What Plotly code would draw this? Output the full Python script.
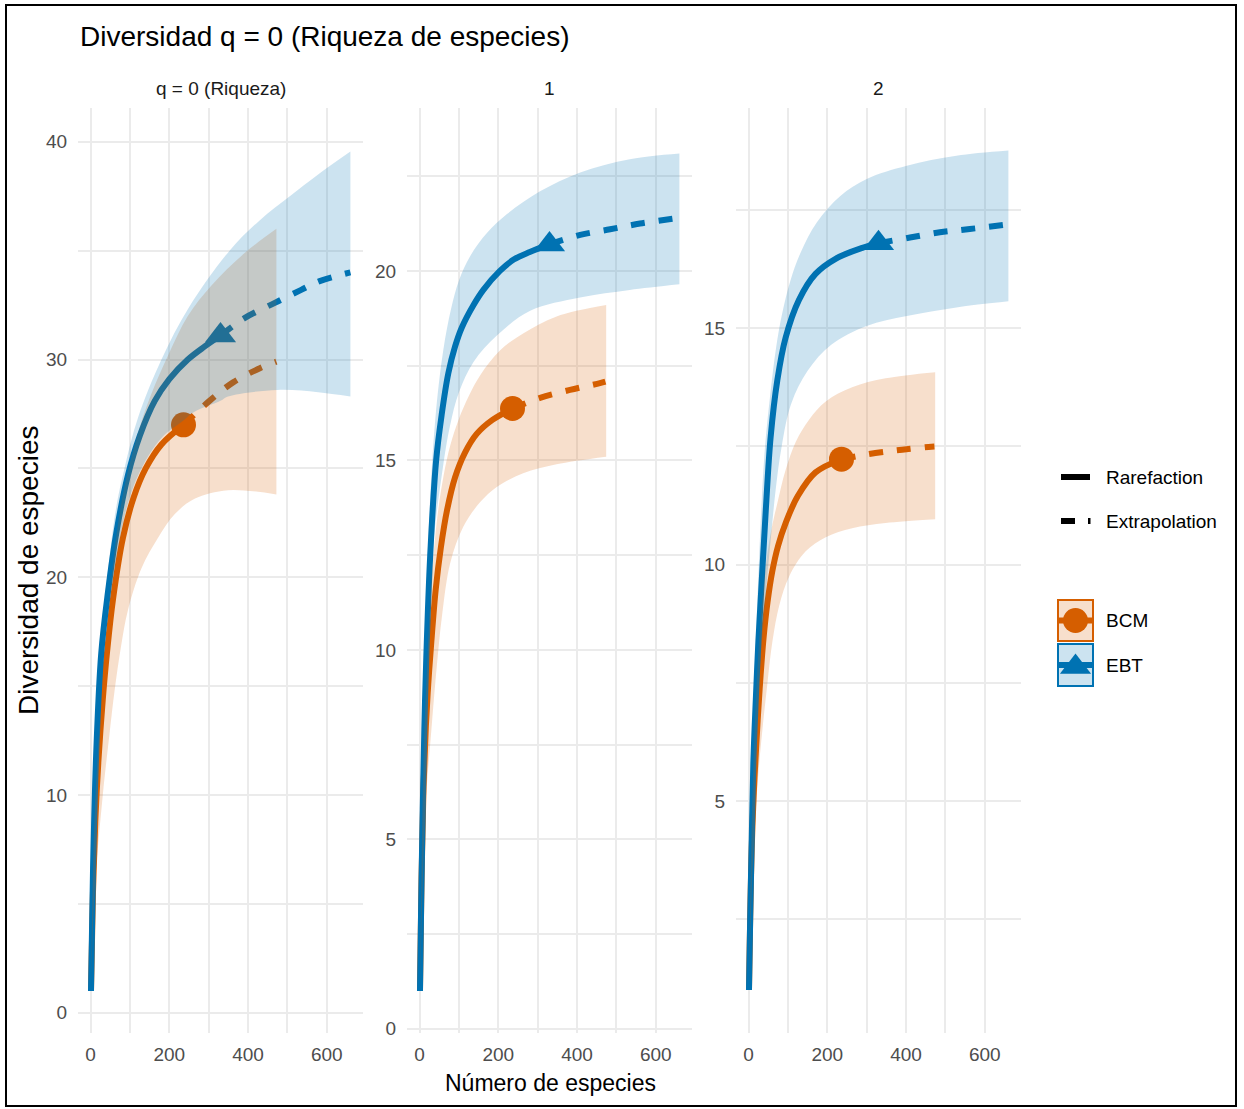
import plotly.graph_objects as go

W, H = 1244, 1109          # reference canvas (pixel design space)
H_FIG = 1115               # figure height (compensates the slight vertical squeeze of the capture)

# ---------------- data ----------------
facet_labels = ["q = 0 (Riqueza)", "1", "2"]
x_ticks = [0, 200, 400, 600]
y_dticks = [10, 5, 5]
y_ranges = [[-0.93, 41.55], [-0.11, 24.3], [0.09, 19.66]]

# q = 0
bcm_q0_rare_x = [1, 6, 12, 20, 31, 42, 57, 82, 110, 140, 180, 236]
bcm_q0_rare_y = [1, 5.5, 8.8, 11.6, 14.4, 16.6, 19.0, 21.8, 23.7, 25.0, 26.1, 27.0]
bcm_q0_ext_x = [236, 302, 362, 430, 472]
bcm_q0_ext_y = [27.0, 28.1, 28.95, 29.6, 29.9]
bcm_q0_hi_x = [1, 10, 31, 57, 82, 120, 154, 197, 247, 307, 392, 472]
bcm_q0_hi_y = [1, 9.0, 15.2, 20.6, 23.8, 26.6, 28.4, 30.2, 32.0, 33.4, 34.9, 36.0]
bcm_q0_lo_x = [1, 10, 31, 48, 61, 78, 95, 129, 171, 214, 264, 349, 472]
bcm_q0_lo_y = [1, 5.5, 10.0, 12.8, 14.8, 16.9, 18.5, 20.4, 21.8, 22.9, 23.6, 24.0, 23.8]

ebt_q0_rare_x = [1, 6, 14, 27, 44, 65, 95, 125, 163, 200, 247, 290, 330]
ebt_q0_rare_y = [1, 6.4, 11.8, 16.5, 19.3, 22.0, 24.7, 26.5, 28.1, 29.1, 30.0, 30.6, 31.1]
ebt_q0_ext_x = [330, 391, 468, 535, 582, 660]
ebt_q0_ext_y = [31.1, 31.9, 32.6, 33.2, 33.6, 34.0]
ebt_q0_hi_x = [1, 6, 14, 27, 44, 65, 86, 120, 180, 250, 353, 430, 506, 578, 660]
ebt_q0_hi_y = [1, 6.8, 12.4, 17.2, 20.3, 23.2, 25.0, 27.3, 30.0, 32.4, 35.0, 36.4, 37.5, 38.5, 39.55]
ebt_q0_lo_x = [1, 6, 14, 27, 44, 65, 95, 129, 180, 236, 264, 330, 349, 474, 578, 660]
ebt_q0_lo_y = [1, 6.0, 11.2, 15.6, 18.2, 20.8, 23.4, 25.0, 26.4, 27.2, 27.6, 28.1, 28.3, 28.6, 28.5, 28.3]

# q = 1
bcm_q1_rare_x = [1, 5, 10, 16, 22, 29, 41, 54, 70, 90, 115, 145, 185, 236]
bcm_q1_rare_y = [1, 4.0, 6.4, 8.0, 9.1, 10.1, 11.6, 12.7, 13.7, 14.55, 15.2, 15.7, 16.07, 16.37]
bcm_q1_ext_x = [236, 306, 382, 458, 472]
bcm_q1_ext_y = [16.37, 16.65, 16.86, 17.04, 17.08]
bcm_q1_hi_x = [1, 10, 20, 30, 45, 61, 78, 100, 125, 154, 204, 263, 348, 474]
bcm_q1_hi_y = [1, 7.2, 9.8, 11.8, 13.5, 14.6, 15.4, 16.1, 16.7, 17.25, 17.9, 18.35, 18.8, 19.1]
bcm_q1_lo_x = [1, 15, 30, 44, 57, 78, 111, 154, 196, 263, 348, 474]
bcm_q1_lo_y = [1, 5.8, 7.9, 9.6, 10.9, 12.3, 13.25, 13.9, 14.3, 14.66, 14.9, 15.1]

ebt_q1_rare_x = [1, 4, 8, 12, 17, 27, 42, 56, 73, 90, 107, 137, 162, 204, 239, 280, 330]
ebt_q1_rare_y = [1, 3.3, 5.8, 7.9, 9.8, 12.5, 15.0, 16.2, 17.3, 18.0, 18.5, 19.1, 19.5, 20.0, 20.3, 20.5, 20.7]
ebt_q1_ext_x = [330, 408, 484, 560, 660]
ebt_q1_ext_y = [20.7, 20.95, 21.1, 21.25, 21.4]
ebt_q1_hi_x = [1, 8, 15, 25, 40, 60, 80, 100, 129, 171, 222, 306, 408, 534, 660]
ebt_q1_hi_y = [1, 6.5, 10.5, 13.6, 16.1, 17.9, 19.0, 19.75, 20.4, 21.0, 21.5, 22.1, 22.6, 22.95, 23.1]
ebt_q1_lo_x = [1, 10, 20, 35, 59, 77, 100, 137, 197, 281, 408, 534, 660]
ebt_q1_lo_y = [1, 6.3, 10.0, 12.8, 14.8, 15.9, 16.8, 17.6, 18.3, 18.95, 19.3, 19.5, 19.65]

# q = 2
bcm_q2_rare_x = [1, 8, 15, 23, 30, 38, 48, 60, 75, 95, 125, 170, 236]
bcm_q2_rare_y = [1, 4.0, 5.5, 6.7, 7.6, 8.45, 9.2, 9.85, 10.4, 10.9, 11.45, 11.95, 12.23]
bcm_q2_ext_x = [236, 322, 390, 457, 472]
bcm_q2_ext_y = [12.23, 12.36, 12.43, 12.49, 12.5]
bcm_q2_hi_x = [1, 8, 20, 32, 44, 57, 73, 94, 120, 154, 196, 263, 348, 474]
bcm_q2_hi_y = [1, 4.6, 7.4, 9.0, 10.0, 10.7, 11.3, 12.0, 12.6, 13.07, 13.45, 13.75, 13.94, 14.07]
bcm_q2_lo_x = [1, 10, 25, 48, 61, 78, 103, 145, 196, 263, 348, 474]
bcm_q2_lo_y = [1, 3.5, 5.6, 7.5, 8.4, 9.14, 9.75, 10.28, 10.58, 10.77, 10.88, 10.96]

ebt_q2_rare_x = [1, 4, 8, 12, 18.6, 25, 34, 44, 56, 73, 94, 128, 170, 221, 289, 330]
ebt_q2_rare_y = [1, 2.5, 4.2, 5.8, 7.2, 8.4, 9.75, 11.2, 12.7, 13.9, 14.8, 15.6, 16.15, 16.47, 16.7, 16.8]
ebt_q2_ext_x = [330, 410, 486, 562, 660]
ebt_q2_ext_y = [16.8, 16.92, 17.03, 17.1, 17.2]
ebt_q2_hi_x = [1, 8, 15, 25, 40, 55, 70, 85, 106, 132, 174, 233, 300, 402, 528, 660]
ebt_q2_hi_y = [1, 5.0, 7.5, 9.8, 12.3, 13.6, 14.6, 15.3, 16.0, 16.6, 17.25, 17.8, 18.16, 18.44, 18.65, 18.76]
ebt_q2_lo_x = [1, 10, 25, 45, 57, 69, 84, 108, 150, 210, 300, 402, 528, 660]
ebt_q2_lo_y = [1, 4.5, 7.3, 9.5, 10.6, 11.6, 12.5, 13.4, 14.1, 14.65, 15.05, 15.26, 15.44, 15.57]

# ---------------- styling ----------------
ORANGE = "#D55E00"
BLUE = "#0072B2"
ORANGE_FILL = "rgba(213,94,0,0.2)"
BLUE_FILL = "rgba(0,114,178,0.2)"
GRID = "#EBEBEB"
FONT = "Liberation Sans, Arial, sans-serif"

panels = [
    dict(bcm=(bcm_q0_rare_x, bcm_q0_rare_y, bcm_q0_ext_x, bcm_q0_ext_y,
              bcm_q0_hi_x, bcm_q0_hi_y, bcm_q0_lo_x, bcm_q0_lo_y),
         ebt=(ebt_q0_rare_x, ebt_q0_rare_y, ebt_q0_ext_x, ebt_q0_ext_y,
              ebt_q0_hi_x, ebt_q0_hi_y, ebt_q0_lo_x, ebt_q0_lo_y)),
    dict(bcm=(bcm_q1_rare_x, bcm_q1_rare_y, bcm_q1_ext_x, bcm_q1_ext_y,
              bcm_q1_hi_x, bcm_q1_hi_y, bcm_q1_lo_x, bcm_q1_lo_y),
         ebt=(ebt_q1_rare_x, ebt_q1_rare_y, ebt_q1_ext_x, ebt_q1_ext_y,
              ebt_q1_hi_x, ebt_q1_hi_y, ebt_q1_lo_x, ebt_q1_lo_y)),
    dict(bcm=(bcm_q2_rare_x, bcm_q2_rare_y, bcm_q2_ext_x, bcm_q2_ext_y,
              bcm_q2_hi_x, bcm_q2_hi_y, bcm_q2_lo_x, bcm_q2_lo_y),
         ebt=(ebt_q2_rare_x, ebt_q2_rare_y, ebt_q2_ext_x, ebt_q2_ext_y,
              ebt_q2_hi_x, ebt_q2_hi_y, ebt_q2_lo_x, ebt_q2_lo_y)),
]

# panel pixel geometry (design space)
panel_left = [78, 407, 736]
panel_w = 285
panel_top, panel_bottom = 108, 1033

fig = go.Figure()

LW = 6
DASH = "14px,14px"

for i, p in enumerate(panels):
    xa = "x" if i == 0 else f"x{i+1}"
    ya = "y" if i == 0 else f"y{i+1}"
    common = dict(xaxis=xa, yaxis=ya, showlegend=False, hoverinfo="skip")
    groups = [("bcm", ORANGE, ORANGE_FILL, "circle", 25),
              ("ebt", BLUE, BLUE_FILL, "triangle-up", 27)]
    for key, col, fcol, sym, msz in groups:
        rx, ry, ex, ey, hx, hy, lx, ly = p[key]
        fig.add_trace(go.Scatter(x=rx, y=ry, mode="lines",
                                 line=dict(color=col, width=LW, shape="spline"), **common))
        fig.add_trace(go.Scatter(x=ex, y=ey, mode="lines",
                                 line=dict(color=col, width=LW, dash=DASH, shape="spline"), **common))
    for key, col, fcol, sym, msz in groups:
        rx, ry = p[key][0], p[key][1]
        fig.add_trace(go.Scatter(x=[rx[-1]], y=[ry[-1]], mode="markers",
                                 marker=dict(symbol=sym, size=msz, color=col, line=dict(width=0)),
                                 **common))
    # ribbons drawn over lines, as in the original
    for key, col, fcol, sym, msz in groups:
        rx, ry, ex, ey, hx, hy, lx, ly = p[key]
        fig.add_trace(go.Scatter(x=hx, y=hy, mode="lines",
                                 line=dict(width=0, color=fcol, shape="spline"), **common))
        fig.add_trace(go.Scatter(x=lx, y=ly, mode="lines", fill="tonexty", fillcolor=fcol,
                                 line=dict(width=0, color=fcol, shape="spline"), **common))

fig.add_trace(go.Scatter(x=[0], y=[0], mode="markers", marker=dict(size=1, color="rgba(0,0,0,0)"),
                         xaxis="x4", yaxis="y4", showlegend=False, hoverinfo="skip"))

layout = dict(
    width=W, height=H_FIG,
    margin=dict(l=0, r=0, t=0, b=0),
    paper_bgcolor="white", plot_bgcolor="rgba(0,0,0,0)",
    font=dict(family=FONT),
)

tickfont = dict(family=FONT, size=19, color="#4D4D4D")
for i in range(3):
    xn = "xaxis" if i == 0 else f"xaxis{i+1}"
    yn = "yaxis" if i == 0 else f"yaxis{i+1}"
    ya = "y" if i == 0 else f"y{i+1}"
    xa = "x" if i == 0 else f"x{i+1}"
    layout[xn] = dict(
        domain=[panel_left[i] / W, (panel_left[i] + panel_w) / W],
        anchor=ya, range=[-32, 692],
        tickmode="array", tickvals=x_ticks,
        showgrid=True, gridcolor=GRID, gridwidth=2.4,
        minor=dict(tickmode="linear", tick0=0, dtick=100, showgrid=True,
                   gridcolor=GRID, gridwidth=1.8, ticks=""),
        ticks="outside", ticklen=4, tickcolor="rgba(0,0,0,0)",
        tickfont=tickfont, zeroline=False, showline=False, fixedrange=True,
    )
    layout[yn] = dict(
        domain=[(H - panel_bottom) / H, (H - panel_top) / H],
        anchor=xa, range=y_ranges[i],
        tickmode="linear", tick0=0, dtick=y_dticks[i],
        showgrid=True, gridcolor=GRID, gridwidth=2.4,
        minor=dict(tickmode="linear", tick0=0, dtick=y_dticks[i] / 2, showgrid=True,
                   gridcolor=GRID, gridwidth=1.8, ticks=""),
        ticks="outside", ticklen=6, tickcolor="rgba(0,0,0,0)",
        tickfont=tickfont, zeroline=False, showline=False, fixedrange=True,
    )

# overlay axis in design pixel space
layout["xaxis4"] = dict(domain=[0, 1], range=[0, W], visible=False, anchor="y4", fixedrange=True)
layout["yaxis4"] = dict(domain=[0, 1], range=[H, 0], visible=False, anchor="x4", fixedrange=True)

shapes = []
annotations = []

def px_ann(x, y, text, size, color="black", xanchor="center", yanchor="middle", angle=0):
    annotations.append(dict(x=x, y=y, xref="x4", yref="y4", text=text, showarrow=False,
                            xanchor=xanchor, yanchor=yanchor, textangle=angle,
                            font=dict(family=FONT, size=size, color=color)))

shapes.append(dict(type="rect", xref="x4", yref="y4", x0=6, x1=1236, y0=5, y1=1106,
                   line=dict(color="black", width=2), fillcolor="rgba(0,0,0,0)", layer="above"))

px_ann(78, 36, "Diversidad q = 0 (Riqueza de especies)", 28, xanchor="left")
for i, lab in enumerate(facet_labels):
    px_ann(panel_left[i] + panel_w / 2, 88, lab, 19, color="#1A1A1A")
px_ann(550, 1083, "Número de especies", 23)
px_ann(28, 570, "Diversidad de especies", 28, angle=-90)

shapes.append(dict(type="line", xref="x4", yref="y4", x0=1061, x1=1090, y0=477, y1=477,
                   line=dict(color="black", width=6)))
shapes.append(dict(type="line", xref="x4", yref="y4", x0=1061, x1=1075, y0=521, y1=521,
                   line=dict(color="black", width=6)))
shapes.append(dict(type="line", xref="x4", yref="y4", x0=1088, x1=1090.5, y0=521, y1=521,
                   line=dict(color="black", width=6)))
px_ann(1104, 477, "Rarefaction", 19, xanchor="left")
px_ann(1104, 521, "Extrapolation", 19, xanchor="left")

key_info = [("BCM", ORANGE, ORANGE_FILL, 600, 641), ("EBT", BLUE, BLUE_FILL, 644, 686)]
for name, col, fcol, y0, y1 in key_info:
    shapes.append(dict(type="rect", xref="x4", yref="y4", x0=1058, x1=1093, y0=y0, y1=y1,
                       line=dict(color=col, width=2), fillcolor=fcol))
    yc = (y0 + y1) / 2
    shapes.append(dict(type="line", xref="x4", yref="y4", x0=1059, x1=1092, y0=yc, y1=yc,
                       line=dict(color=col, width=6)))
    px_ann(1104, yc, name, 19, xanchor="left")

fig.add_trace(go.Scatter(x=[1075.5], y=[620.5], mode="markers", xaxis="x4", yaxis="y4",
                         marker=dict(symbol="circle", size=25, color=ORANGE, line=dict(width=0)),
                         showlegend=False, hoverinfo="skip"))
fig.add_trace(go.Scatter(x=[1075.5], y=[667], mode="markers", xaxis="x4", yaxis="y4",
                         marker=dict(symbol="triangle-up", size=27, color=BLUE, line=dict(width=0)),
                         showlegend=False, hoverinfo="skip"))

layout["shapes"] = shapes
layout["annotations"] = annotations
fig.update_layout(**layout)

post = ("document.documentElement.style.margin='0px';"
        "document.body.style.margin='0px';"
        "document.documentElement.style.overflow='hidden';"
        "document.body.style.overflow='hidden';"
        "var gd=document.getElementById('{plot_id}');"
        "gd.style.position='absolute';gd.style.left='0px';gd.style.top='0px';")

fig.write_html("out.html", config={"displayModeBar": False}, post_script=post)
